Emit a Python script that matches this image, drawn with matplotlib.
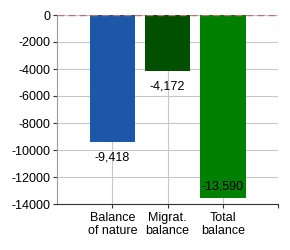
import matplotlib
matplotlib.use("Agg")
import matplotlib.pyplot as plt

plt.rcParams["font.family"] = ["Liberation Sans", "DejaVu Sans"]

categories = ["Balance\nof nature", "Migrat.\nbalance", "Total\nbalance"]
values = [-9418, -4172, -13590]
colors = ["#1f57a8", "#005000", "#008000"]
value_labels = ["-9,418", "-4,172", "-13,590"]

fig = plt.figure(figsize=(2.9, 2.5), dpi=100)
ax = fig.add_axes([0.197, 0.184, 0.762, 0.756])
x = list(range(len(categories)))
ax.bar(x, values, width=0.82, color=colors, zorder=2)
ax.set_xlim(-1, 3)
ax.set_ylim(-14000, 0)
ax.set_yticks(range(-14000, 1, 2000))
ax.set_yticklabels([str(v) for v in range(-14000, 1, 2000)], fontsize=9)
ax.set_xticks([0, 1, 2, 3])
ax.set_xticklabels(categories + [""], fontsize=9, linespacing=1.05)
ax.grid(True, color="#c8c8c8", linewidth=0.8, zorder=0)
ax.axhline(0, color="#c07070", linestyle=(0, (5, 3)), linewidth=1, zorder=3)
for s in ["top", "right"]:
    ax.spines[s].set_visible(False)
ax.spines["left"].set_color("#999999")
ax.spines["bottom"].set_color("#333333")
ax.tick_params(axis="both", length=3, width=0.8, color="#333333", pad=2)
ax.tick_params(axis="x", pad=3)

for i, (v, lab) in enumerate(zip(values, value_labels)):
    if v < -12500:
        ax.annotate(lab, (i, v), xytext=(0, 8.5), textcoords="offset points",
                    ha="center", va="center", fontsize=9, zorder=4)
    else:
        ax.annotate(lab, (i, v), xytext=(0, -11), textcoords="offset points",
                    ha="center", va="center", fontsize=9, zorder=4)

fig.savefig("out.png", dpi=100)
